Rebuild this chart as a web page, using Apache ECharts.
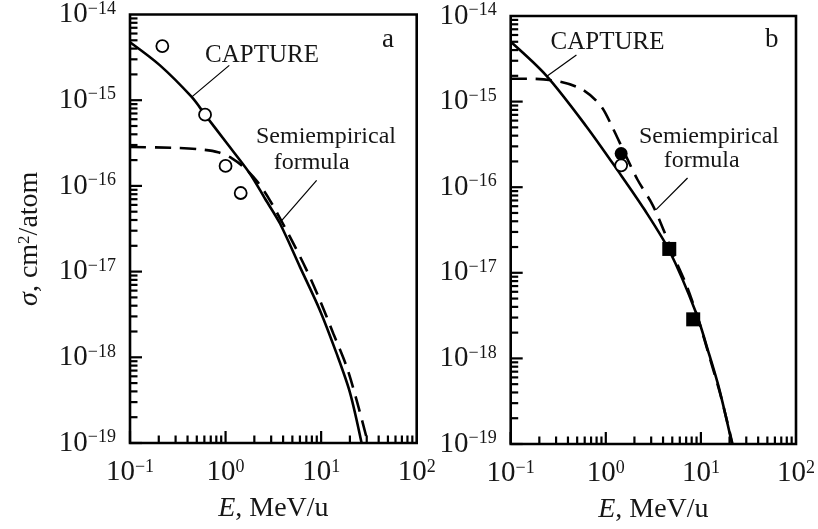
<!DOCTYPE html>
<html><head><meta charset="utf-8">
<script src="https://cdn.jsdelivr.net/npm/echarts@6/dist/echarts.min.js"></script>
<style>html,body{margin:0;padding:0;background:#fff}#c{width:818px;height:529px}</style>
</head><body><div id="c"></div>
<script>
// ---------- Data ----------
// Panel a
const solidA_E = [0.1, 0.206, 0.442, 0.61, 1.0, 1.80, 2.6, 3.71, 6.0, 9.7, 14.5, 20.0, 26.5];
const solidA_S = [4.75e-15, 2.55e-15, 1.09e-15, 6.78e-16, 3.29e-16, 1.39e-16, 7.03e-17, 3.64e-17, 1.135e-17, 3.55e-18, 1.11e-18, 3.9e-19, 1e-19];
const dashedA_E = [0.1, 0.296, 0.54, 0.834, 1.167, 1.60, 2.18, 2.91, 4.72, 7.05, 9.7, 13.4, 18.5, 23.5, 30.9];
const dashedA_S = [2.84e-16, 2.78e-16, 2.67e-16, 2.47e-16, 2.10e-16, 1.60e-16, 1.10e-16, 6.79e-17, 2.54e-17, 1.04e-17, 4.65e-18, 1.90e-18, 7.74e-19, 3.17e-19, 1e-19];
const openA_E = [0.218, 0.61, 1.0, 1.44];
const openA_S = [4.28e-15, 6.78e-16, 1.71e-16, 8.26e-17];
// Panel b
const solidB_E = [0.1, 0.238, 0.625, 1.39, 2.55, 4.65, 8.87, 12.2, 15.6, 21.3];
const solidB_S = [5.0e-15, 2.0e-15, 5.13e-16, 1.47e-16, 5.48e-17, 1.82e-17, 3.43e-18, 1.12e-18, 4.38e-19, 1e-19];
const dashedB_E = [0.1, 0.159, 0.328, 0.575, 0.897, 1.18, 1.57, 2.15, 3.09, 4.03, 5.38, 7.19, 9.38, 12.5, 16.3, 21.5];
const dashedB_S = [1.85e-15, 1.85e-15, 1.71e-15, 1.37e-15, 8.77e-16, 4.95e-16, 2.53e-16, 1.23e-16, 6.27e-17, 3.21e-17, 1.43e-17, 6.76e-18, 2.86e-18, 9.8e-19, 3.53e-19, 1e-19];
const filledB_E = [1.45];
const filledB_S = [2.47e-16];
const openB_E = [1.45];
const openB_S = [1.80e-16];
const squareB_E = [4.65, 8.3];
const squareB_S = [1.9e-17, 2.86e-18];
// Annotation leader lines (data space)
const leaderCapA_E = [1.094, 0.441];
const leaderCapA_S = [2.55e-15, 1.086e-15];
const leaderSemiA_E = [8.97, 3.78];
const leaderSemiA_S = [1.16e-16, 3.82e-17];
const leaderCapB_E = [0.491, 0.238];
const leaderCapB_S = [3.51e-15, 1.96e-15];
const leaderSemiB_E = [7.24, 3.38];
const leaderSemiB_S = [1.28e-16, 5.48e-17];
// Axis ranges and tick positions
const xRange = [0.1, 100];
const yRange = [1e-19, 1e-14];
const xDecades = [0.1, 1, 10];
const yDecades = [1e-19, 1e-18, 1e-17, 1e-16, 1e-15];
const minorMult = [2, 3, 4, 5, 6, 7, 8, 9];

// ---------- Chart ----------
const FONT = '"Liberation Serif","Times New Roman",serif';
const INK = '#161616';
const zip = (a, b) => a.map((v, i) => [v, b[i]]);
function decLabel(v) {
  const e = Math.round(Math.log10(v));
  return '{b|10}{s|' + (e < 0 ? '\u2212' + (-e) : e) + '}';
}
const labelRich = {
  b: {fontSize: 29, fontFamily: FONT, color: INK},
  s: {fontSize: 18, fontFamily: FONT, color: INK, verticalAlign: 'top'}
};
const tickData = [];
yDecades.forEach(d => {
  tickData.push([xRange[0], d, 0, 1]);
  minorMult.forEach(m => tickData.push([xRange[0], d * m, 0, 0]));
});
xDecades.forEach(d => {
  tickData.push([d, yRange[0], 1, 1]);
  minorMult.forEach(m => tickData.push([d * m, yRange[0], 1, 0]));
});
function tickSeries(i) {
  return {
    type: 'custom', xAxisIndex: i, yAxisIndex: i, silent: true, z: 6, clip: false,
    data: tickData,
    renderItem(params, api) {
      const p = api.coord([api.value(0), api.value(1)]);
      const horiz = api.value(2) === 0;
      const len = api.value(3) ? 12 : 7.5;
      const shape = horiz ? {x1: p[0], y1: p[1], x2: p[0] + len, y2: p[1]}
                          : {x1: p[0], y1: p[1], x2: p[0], y2: p[1] - len};
      return {type: 'line', shape, style: {stroke: '#000', lineWidth: 2.2}};
    }
  };
}
function xAxisCfg(i) {
  return {
    type: 'log', logBase: 10, gridIndex: i, min: xRange[0], max: xRange[1],
    axisLine: {show: false}, axisTick: {show: false}, splitLine: {show: false},
    axisLabel: {formatter: decLabel, rich: labelRich, margin: 15},
    name: '{i|E}{n|, MeV/u}', nameLocation: 'middle', nameGap: 52,
    nameTextStyle: {rich: {
      i: {fontSize: 28, fontFamily: FONT, fontStyle: 'italic', color: INK},
      n: {fontSize: 28, fontFamily: FONT, color: INK}
    }}
  };
}
function yAxisCfg(i, withName) {
  const c = {
    type: 'log', logBase: 10, gridIndex: i, min: yRange[0], max: yRange[1],
    axisLine: {show: false}, axisTick: {show: false}, splitLine: {show: false},
    axisLabel: {formatter: decLabel, rich: labelRich, margin: 14}
  };
  if (withName) {
    Object.assign(c, {
      name: '{i|\u03c3}{n|, cm}{s|2}{n|/atom}', nameLocation: 'middle', nameGap: 86,
      nameTextStyle: {padding: [0, 20, 0, 0], rich: {
        i: {fontSize: 28, fontFamily: FONT, fontStyle: 'italic', color: INK},
        n: {fontSize: 28, fontFamily: FONT, color: INK},
        s: {fontSize: 17, fontFamily: FONT, color: INK, verticalAlign: 'top'}
      }}
    });
  }
  return c;
}
function curve(i, E, S, dashed) {
  return {
    type: 'line', xAxisIndex: i, yAxisIndex: i, data: zip(E, S), symbol: 'none',
    smooth: 0.3, z: 3,
    lineStyle: {color: '#000', width: 2.6, type: dashed ? [16, 9] : 'solid'}
  };
}
function leader(i, E, S) {
  return {
    type: 'line', xAxisIndex: i, yAxisIndex: i, data: zip(E, S), symbol: 'none',
    z: 2, lineStyle: {color: '#000', width: 1.2}
  };
}
function marks(i, E, S, symbol, size, filled) {
  return {
    type: 'scatter', xAxisIndex: i, yAxisIndex: i, data: zip(E, S), symbol, symbolSize: size, z: 5,
    itemStyle: filled ? {color: '#000', opacity: 1} : {color: '#fff', borderColor: '#000', borderWidth: 1.8, opacity: 1}
  };
}
function txt(x, y, text, size) {
  return {type: 'text', x, y, silent: true, z: 10,
    style: {text, fontSize: size, fontFamily: FONT, fill: INK, align: 'center', verticalAlign: 'middle'}};
}

const chart = echarts.init(document.getElementById('c'), null, {renderer: 'canvas'});
chart.setOption({
  animation: false,
  backgroundColor: '#fff',
  grid: [
    {left: 130, top: 14, width: 286.7, height: 429, show: true, borderColor: '#000', borderWidth: 2.6, backgroundColor: 'transparent'},
    {left: 510.7, top: 16, width: 286.6, height: 429, show: true, borderColor: '#000', borderWidth: 2.6, backgroundColor: 'transparent'}
  ],
  xAxis: [xAxisCfg(0), xAxisCfg(1)],
  yAxis: [yAxisCfg(0, true), yAxisCfg(1, false)],
  series: [
    curve(0, solidA_E, solidA_S, false),
    curve(0, dashedA_E, dashedA_S, true),
    marks(0, openA_E, openA_S, 'circle', 12, false),
    leader(0, leaderCapA_E, leaderCapA_S),
    leader(0, leaderSemiA_E, leaderSemiA_S),
    tickSeries(0),
    curve(1, solidB_E, solidB_S, false),
    curve(1, dashedB_E, dashedB_S, true),
    marks(1, openB_E, openB_S, 'circle', 12, false),
    marks(1, filledB_E, filledB_S, 'circle', 13, true),
    marks(1, squareB_E, squareB_S, 'rect', 14, true),
    leader(1, leaderCapB_E, leaderCapB_S),
    leader(1, leaderSemiB_E, leaderSemiB_S),
    tickSeries(1)
  ],
  graphic: [
    txt(262, 55, 'CAPTURE', 25),
    txt(388, 40, 'a', 27),
    txt(326, 137, 'Semiempirical', 24),
    txt(311.7, 163, 'formula', 24),
    txt(607.5, 42, 'CAPTURE', 25),
    txt(771.7, 40, 'b', 27),
    txt(709, 137, 'Semiempirical', 24),
    txt(701.7, 161, 'formula', 24)
  ]
});
</script>
</body></html>
